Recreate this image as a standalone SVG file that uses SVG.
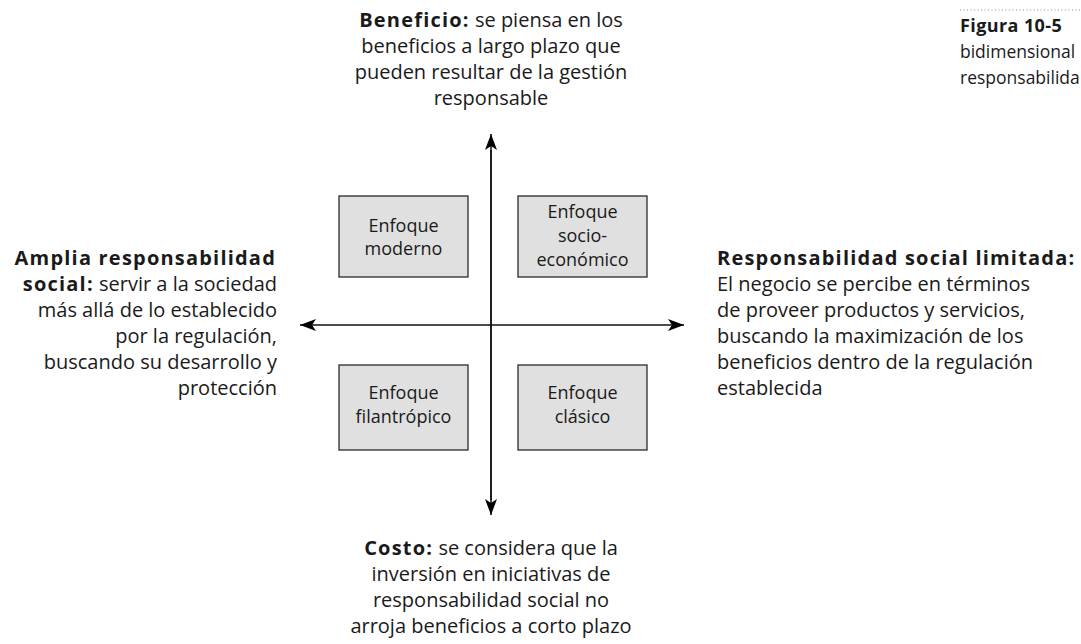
<svg xmlns="http://www.w3.org/2000/svg" width="1081" height="644" viewBox="0 0 1081 644">
<style>
  text { font-family: "Open Sans", "Noto Sans", "Liberation Sans", sans-serif; fill: #1a1a1a; }
  .lbl { font-size: 20px; }
  .b { font-weight: bold; letter-spacing: 1.2px; }
  .box rect { fill: #e0e0e0; stroke: #2a2a2a; stroke-width: 1.3; }
  .box text { font-size: 18px; text-anchor: middle; }
  .axis { stroke: #111; stroke-width: 1.5; fill: none; }
  .cap { font-size: 17.5px; }
  .cap.b { font-size: 18px; letter-spacing: 0.4px; }
</style>
<defs>
  <marker id="ah" viewBox="0 0 16 12" refX="16" refY="6" markerWidth="16" markerHeight="12" markerUnits="userSpaceOnUse" orient="auto">
    <path d="M0,0 L16,6 L0,12 L4,6 Z" fill="#000"/>
  </marker>
</defs>
<rect width="1081" height="644" fill="#fff"/>

<g id="caption">
  <line x1="960" y1="10" x2="1081" y2="10" stroke="#888" stroke-width="1" stroke-dasharray="1,2.5"/>
  <text class="cap b" x="960" y="32">Figura 10-5</text>
  <text class="cap" x="960" y="58">bidimensional</text>
  <text class="cap" x="960" y="84">responsabilida</text>
</g>

<g id="connectors">
  <line class="axis" x1="491" y1="500" x2="491" y2="134" marker-end="url(#ah)"/>
  <line class="axis" x1="491" y1="150" x2="491" y2="515" marker-end="url(#ah)"/>
  <line class="axis" x1="491" y1="325" x2="300" y2="325" marker-end="url(#ah)"/>
  <line class="axis" x1="491" y1="325" x2="684" y2="325" marker-end="url(#ah)"/>
</g>

<g id="top-label" class="lbl" text-anchor="middle">
  <text x="491" y="27"><tspan class="b">Beneficio:</tspan> se piensa en los</text>
  <text x="491" y="53">beneficios a largo plazo que</text>
  <text x="491" y="79">pueden resultar de la gestión</text>
  <text x="491" y="105">responsable</text>
</g>

<g id="bottom-label" class="lbl" text-anchor="middle">
  <text x="491" y="555"><tspan class="b">Costo:</tspan> se considera que la</text>
  <text x="491" y="581">inversión en iniciativas de</text>
  <text x="491" y="607">responsabilidad social no</text>
  <text x="491" y="633">arroja beneficios a corto plazo</text>
</g>

<g id="left-label" class="lbl" text-anchor="end">
  <text class="b" x="276" y="265">Amplia responsabilidad</text>
  <text x="277" y="291"><tspan class="b">social:</tspan> servir a la sociedad</text>
  <text x="277" y="317">más allá de lo establecido</text>
  <text x="277" y="343">por la regulación,</text>
  <text x="277" y="369">buscando su desarrollo y</text>
  <text x="277" y="395">protección</text>
</g>

<g id="right-label" class="lbl">
  <text class="b" x="717" y="265">Responsabilidad social limitada:</text>
  <text x="717" y="291">El negocio se percibe en términos</text>
  <text x="717" y="317">de proveer productos y servicios,</text>
  <text x="717" y="343">buscando la maximización de los</text>
  <text x="717" y="369">beneficios dentro de la regulación</text>
  <text x="717" y="395">establecida</text>
</g>

<g id="moderno" class="box">
  <rect x="339" y="196" width="129" height="81"/>
  <text x="403.5" y="232">Enfoque</text>
  <text x="403.5" y="255">moderno</text>
</g>
<g id="socioeconomico" class="box">
  <rect x="518" y="196" width="129" height="81"/>
  <text x="582.5" y="218">Enfoque</text>
  <text x="582.5" y="242">socio-</text>
  <text x="582.5" y="266">económico</text>
</g>
<g id="filantropico" class="box">
  <rect x="339" y="365" width="129" height="85"/>
  <text x="403.5" y="399">Enfoque</text>
  <text x="403.5" y="423">filantrópico</text>
</g>
<g id="clasico" class="box">
  <rect x="518" y="365" width="129" height="85"/>
  <text x="582.5" y="399">Enfoque</text>
  <text x="582.5" y="423">clásico</text>
</g>
</svg>
